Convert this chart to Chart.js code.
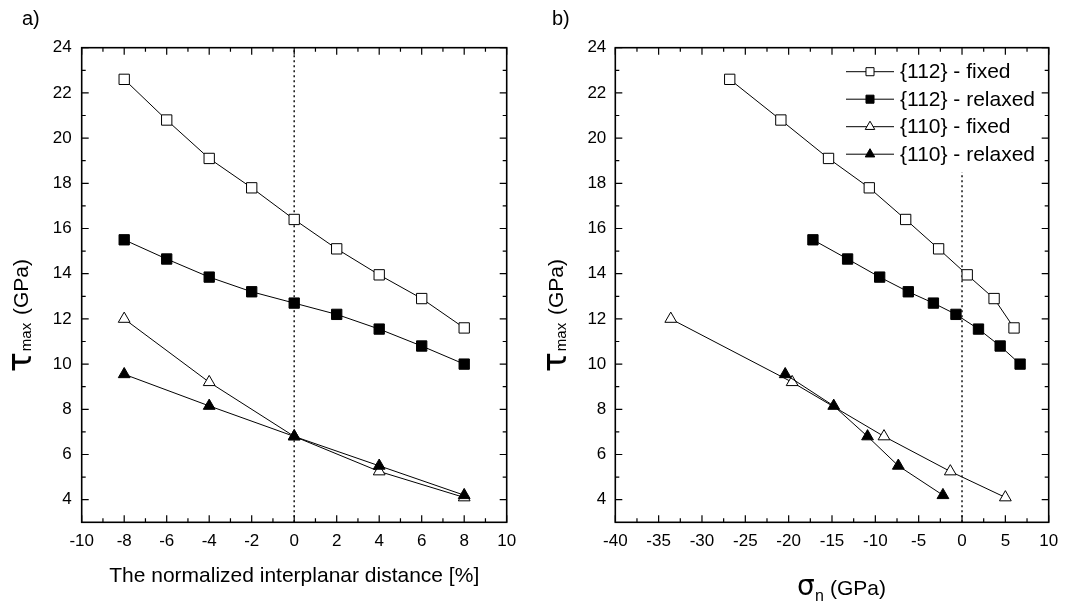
<!DOCTYPE html>
<html>
<head>
<meta charset="utf-8">
<script src="https://cdn.jsdelivr.net/npm/chart.js@4.4.0/dist/chart.umd.min.js"></script>
<style>
  body { margin: 0; background: #fff; }
  #wrap { position: relative; width: 1084px; height: 608px; }
  canvas { position: absolute; top: 0; }
</style>
</head>
<body>
<div id="wrap">
  <canvas id="chartA" width="542" height="608" style="left:0"></canvas>
  <canvas id="chartB" width="542" height="608" style="left:542px"></canvas>
</div>
<script>
// tick labels
const leftXTicks = [-10, -8, -6, -4, -2, 0, 2, 4, 6, 8, 10];
const rightXTicks = [-40, -35, -30, -25, -20, -15, -10, -5, 0, 5, 10];
const yTicks = [4, 6, 8, 10, 12, 14, 16, 18, 20, 22, 24];

// shear stress values (GPa)
const tau112Fixed = [22.6, 20.8, 19.1, 17.8, 16.4, 15.1, 13.95, 12.9, 11.6];
const tau112Relaxed = [15.5, 14.65, 13.85, 13.2, 12.7, 12.2, 11.55, 10.8, 10.0];
const tau110Fixed = [12.0, 9.2, 6.8, 5.25, 4.1];
const tau110Relaxed = [9.55, 8.15, 6.8, 5.5, 4.2];

// panel a) interplanar distance [%]
const dist112 = [-8, -6, -4, -2, 0, 2, 4, 6, 8];
const dist110 = [-8, -4, 0, 4, 8];

// panel b) normal stress (GPa)
const sigma112Fixed = [-26.8, -20.9, -15.4, -10.7, -6.5, -2.7, 0.6, 3.7, 6.0];
const sigma112Relaxed = [-17.2, -13.2, -9.5, -6.2, -3.3, -0.7, 1.9, 4.4, 6.7];
const sigma110Fixed = [-33.6, -19.6, -9.0, -1.35, 5.0];
const sigma110Relaxed = [-20.4, -14.8, -10.9, -7.35, -2.2];

// dotted reference line at zero
const refLineA = [3, 24];
const refLineB = [3, 18.5];

const legendLabels = ['{112} - fixed', '{112} - relaxed', '{110} - fixed', '{110} - relaxed'];

const FONT = "'Liberation Sans', Arial, sans-serif";

function pts(xs, ys) {
    return xs.map((x, i) => ({ x: x, y: ys[i] }));
}

function series(data, shape, filled, order) {
    return {
        data: data,
        showLine: true,
        borderColor: '#000',
        borderWidth: 1,
        pointStyle: shape,
        pointRadius: shape === 'rect' ? 7.3 : 6.8,
        pointBorderWidth: 1,
        pointBorderColor: '#000',
        pointBackgroundColor: filled ? '#000' : '#fff',
        order: order
    };
}

function refSeries(ys) {
    return {
        data: ys.map(y => ({ x: 0, y: y })),
        showLine: true,
        borderColor: '#222',
        borderWidth: 1.6,
        borderDash: [2, 3],
        pointRadius: 0,
        order: 10
    };
}

function drawMarker(ctx, shape, filled, x, y, r) {
    ctx.beginPath();
    if (shape === 'rect') {
        const s = r * Math.SQRT1_2;
        ctx.rect(x - s, y - s, 2 * s, 2 * s);
    } else {
        ctx.moveTo(x, y - r);
        ctx.lineTo(x + r * Math.sin(2 * Math.PI / 3), y - r * Math.cos(2 * Math.PI / 3));
        ctx.lineTo(x + r * Math.sin(4 * Math.PI / 3), y - r * Math.cos(4 * Math.PI / 3));
        ctx.closePath();
    }
    ctx.fillStyle = filled ? '#000' : '#fff';
    ctx.fill();
    ctx.lineWidth = 1;
    ctx.strokeStyle = '#000';
    ctx.stroke();
}

function framePlugin(cfg) {
    return {
        id: 'frame',
        afterDraw(chart) {
            const ctx = chart.ctx;
            const { left, right, top, bottom } = chart.chartArea;
            const xs = chart.scales.x, ys = chart.scales.y;
            ctx.save();
            ctx.strokeStyle = '#000';
            ctx.lineWidth = 1.6;
            ctx.strokeRect(left, top, right - left, bottom - top);

            ctx.lineWidth = 1.2;
            ctx.beginPath();
            cfg.xTicks.forEach((v, i) => {
                const px = xs.getPixelForValue(v);
                ctx.moveTo(px, bottom); ctx.lineTo(px, bottom - 7);
                ctx.moveTo(px, top); ctx.lineTo(px, top + 7);
                if (i < cfg.xTicks.length - 1) {
                    const pm = xs.getPixelForValue((v + cfg.xTicks[i + 1]) / 2);
                    ctx.moveTo(pm, bottom); ctx.lineTo(pm, bottom - 4);
                    ctx.moveTo(pm, top); ctx.lineTo(pm, top + 4);
                }
            });
            yTicks.forEach((v, i) => {
                const py = ys.getPixelForValue(v);
                ctx.moveTo(left, py); ctx.lineTo(left + 7, py);
                ctx.moveTo(right, py); ctx.lineTo(right - 7, py);
                if (i < yTicks.length - 1) {
                    const pm = ys.getPixelForValue(v + 1);
                    ctx.moveTo(left, pm); ctx.lineTo(left + 4, pm);
                    ctx.moveTo(right, pm); ctx.lineTo(right - 4, pm);
                }
            });
            ctx.stroke();

            ctx.fillStyle = '#000';
            ctx.textBaseline = 'alphabetic';
            ctx.textAlign = 'left';

            // panel label
            ctx.font = '20px ' + FONT;
            ctx.fillText(cfg.panel, cfg.panelX, 25);

            // y title: tau_max (GPa)
            ctx.save();
            ctx.translate(cfg.yTitleX, 372);
            ctx.rotate(-Math.PI / 2);
            ctx.font = '33px "DejaVu Sans", ' + FONT;
            ctx.fillText('τ', 0, 0);
            const tw = ctx.measureText('τ').width;
            ctx.font = '15px ' + FONT;
            ctx.fillText('max', tw + 1, 0);
            ctx.font = '21px ' + FONT;
            ctx.fillText('(GPa)', 57, -3.5);
            ctx.restore();

            // x title
            if (cfg.xTitle) {
                ctx.font = '21px ' + FONT;
                ctx.textAlign = 'center';
                ctx.fillText(cfg.xTitle, (left + right) / 2, 582);
                ctx.textAlign = 'left';
            } else {
                ctx.font = '28px "DejaVu Sans", ' + FONT;
                ctx.fillText('σ', 255, 595);
                ctx.font = '16px ' + FONT;
                ctx.fillText('n', 273, 601);
                ctx.font = '21px ' + FONT;
                ctx.fillText('(GPa)', 288, 595);
            }

            // legend
            if (cfg.legend) {
                const shapes = [['rect', false], ['rect', true], ['triangle', false], ['triangle', true]];
                legendLabels.forEach((lbl, i) => {
                    const y = 71.7 + i * 27.5;
                    ctx.beginPath();
                    ctx.lineWidth = 1;
                    ctx.strokeStyle = '#000';
                    ctx.moveTo(304, y); ctx.lineTo(352, y);
                    ctx.stroke();
                    drawMarker(ctx, shapes[i][0], shapes[i][1], 328, y, shapes[i][0] === 'rect' ? 5.7 : 5.5);
                    ctx.fillStyle = '#000';
                    ctx.font = '21px ' + FONT;
                    ctx.textBaseline = 'middle';
                    ctx.fillText(lbl, 358, y + 1);
                    ctx.textBaseline = 'alphabetic';
                });
            }
            ctx.restore();
        }
    };
}

function makeChart(id, datasets, xMin, xMax, xTicks, yWidth, yPad, cfg) {
    return new Chart(document.getElementById(id), {
        type: 'scatter',
        data: { datasets: datasets },
        options: {
            responsive: false,
            animation: false,
            layout: { padding: { left: 0, right: 35.3, top: 47.7, bottom: 0 } },
            plugins: { legend: { display: false }, tooltip: { enabled: false } },
            scales: {
                x: {
                    type: 'linear', min: xMin, max: xMax,
                    grid: { display: false, drawTicks: false },
                    border: { display: false },
                    afterBuildTicks: s => { s.ticks = xTicks.map(v => ({ value: v })); },
                    afterFit: s => { s.height = 85.7; },
                    ticks: { autoSkip: false, maxRotation: 0, padding: 9, color: '#000', font: { family: FONT, size: 17 } }
                },
                y: {
                    type: 'linear', min: 3, max: 24,
                    grid: { display: false, drawTicks: false },
                    border: { display: false },
                    afterBuildTicks: s => { s.ticks = yTicks.map(v => ({ value: v })); },
                    afterFit: s => { s.width = yWidth; },
                    ticks: { padding: yPad, color: '#000', font: { family: FONT, size: 17 } }
                }
            }
        },
        plugins: [framePlugin(Object.assign({ xTicks: xTicks }, cfg))]
    });
}

makeChart('chartA', [
    series(pts(dist112, tau112Fixed), 'rect', false, 4),
    series(pts(dist112, tau112Relaxed), 'rect', true, 3),
    series(pts(dist110, tau110Fixed), 'triangle', false, 2),
    series(pts(dist110, tau110Relaxed), 'triangle', true, 1),
    refSeries(refLineA)
], -10, 10, leftXTicks, 81.7, 10, {
    panel: 'a)', panelX: 22, yTitleX: 31,
    xTitle: 'The normalized interplanar distance [%]', legend: false
});

makeChart('chartB', [
    series(pts(sigma112Fixed, tau112Fixed), 'rect', false, 4),
    series(pts(sigma112Relaxed, tau112Relaxed), 'rect', true, 3),
    series(pts(sigma110Fixed, tau110Fixed), 'triangle', false, 2),
    series(pts(sigma110Relaxed, tau110Relaxed), 'triangle', true, 1),
    refSeries(refLineB)
], -40, 10, rightXTicks, 73.3, 9, {
    panel: 'b)', panelX: 10, yTitleX: 24,
    xTitle: null, legend: true
});
</script>
</body>
</html>
